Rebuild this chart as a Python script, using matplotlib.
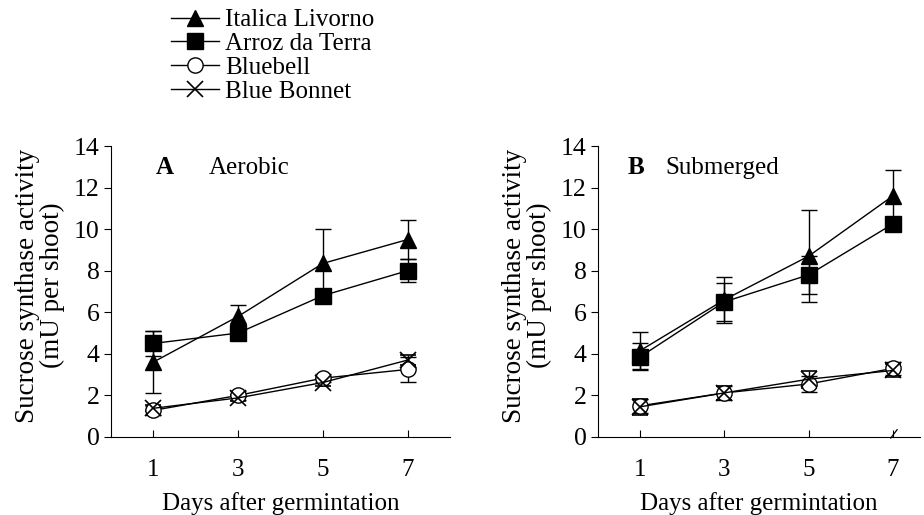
import numpy as np
import matplotlib
matplotlib.use("Agg")
import matplotlib.pyplot as plt
from matplotlib.lines import Line2D

plt.rcParams['font.family'] = ['Liberation Serif', 'DejaVu Serif']
plt.rcParams['font.size'] = 18

days = [1, 3, 5, 7]
cultivars = ["Italica Livorno", "Arroz da Terra", "Bluebell", "Blue Bonnet"]

# panel A - aerobic
aer_italica = [3.6, 5.8, 8.35, 9.5]
aer_italica_err = [1.5, 0.55, 1.65, 0.95]
aer_arroz = [4.5, 5.0, 6.8, 8.0]
aer_arroz_err = [0.6, 0.3, 0.3, 0.55]
aer_bluebell = [1.28, 2.0, 2.83, 3.25]
aer_bluebell_err = [0.2, 0.2, 0.2, 0.6]
aer_bonnet = [1.38, 1.88, 2.62, 3.7]
aer_bonnet_err = [0.15, 0.15, 0.15, 0.25]

# panel B - submerged
sub_italica = [4.15, 6.6, 8.7, 11.6]
sub_italica_err = [0.88, 1.1, 2.2, 1.25]
sub_arroz = [3.85, 6.5, 7.8, 10.25]
sub_arroz_err = [0.65, 0.93, 0.9, 0.3]
sub_bluebell = [1.5, 2.12, 2.55, 3.3]
sub_bluebell_err = [0.35, 0.35, 0.4, 0.3]
sub_bonnet = [1.45, 2.12, 2.78, 3.2]
sub_bonnet_err = [0.4, 0.35, 0.4, 0.3]

styles = [
    dict(marker='^', mfc='black', mec='black', ms=12),
    dict(marker='s', mfc='black', mec='black', ms=11),
    dict(marker='o', mfc='white', mec='black', ms=11, mew=1.0),
    dict(marker='x', mfc='none', mec='black', ms=11, mew=1.2),
]

fig = plt.figure(figsize=(9.24, 5.15), dpi=100)
axA = fig.add_axes([0.120, 0.1515, 0.367, 0.565])
axB = fig.add_axes([0.647, 0.1515, 0.349, 0.565])

def draw(ax, series, errs, xmax):
    # draw low series first so the black markers sit on top
    for i in [3, 2, 1, 0]:
        ax.errorbar(days, series[i], yerr=errs[i], color='black', lw=1.0,
                    elinewidth=1.0, capsize=6, capthick=1.0, zorder=3 + i * 0.1,
                    **styles[i])
    ax.set_xlim(0, xmax)
    ax.set_ylim(0, 14)
    ax.set_yticks(range(0, 15, 2))
    ax.set_xticks(days)
    for s in ['top', 'right']:
        ax.spines[s].set_visible(False)
    ax.tick_params(axis='x', direction='in', length=5, pad=16, labelsize=18)
    ax.tick_params(axis='y', direction='out', length=5, pad=3, labelsize=18.5)
    ax.set_xlabel("Days after germintation", fontsize=18, labelpad=8)
    ax.set_ylabel("Sucrose synthase activity\n(mU per shoot)", fontsize=19.5,
                  linespacing=1.0)
    ax.yaxis.set_label_coords(-0.135 * 0.367 / ax.get_position().width, 0.52)

draw(axA, [aer_italica, aer_arroz, aer_bluebell, aer_bonnet],
     [aer_italica_err, aer_arroz_err, aer_bluebell_err, aer_bonnet_err], 8)
draw(axB, [sub_italica, sub_arroz, sub_bluebell, sub_bonnet],
     [sub_italica_err, sub_arroz_err, sub_bluebell_err, sub_bonnet_err], 7.65)

axA.text(1.05, 12.95, "A", fontweight='bold', fontsize=18, va='center')
axA.text(2.3, 12.95, "Aerobic", fontsize=18, va='center')
axB.text(0.7, 12.95, "B", fontweight='bold', fontsize=18, va='center')
axB.text(1.6, 12.95, "Submerged", fontsize=18, va='center')

# small break mark on the B axis
axB.plot([6.95, 7.1], [-0.05, 0.35], color='black', lw=0.9, clip_on=False)

handles = [Line2D([0], [0], color='black', lw=1.0, **styles[i]) for i in range(4)]
fig.legend(handles, cultivars, loc='upper left', bbox_to_anchor=(0.169, 1.012),
           frameon=False, fontsize=18, handlelength=1.9, handletextpad=0.25,
           labelspacing=0.05, borderaxespad=0.2)

fig.savefig("out.png", dpi=100)
